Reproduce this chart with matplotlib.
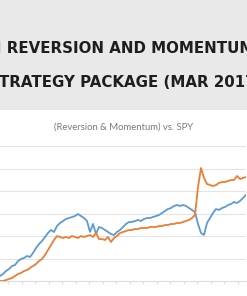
import numpy as np
import matplotlib
matplotlib.use("Agg")
import matplotlib.pyplot as plt
from matplotlib.patches import Rectangle

# cumulative growth (grid every 50 units)
blue = [11.1, 15.6, 22.2, 26.7, 33.3, 35.6, 44.4, 48.9, 51.1, 55.6, 53.3, 62.2,
        73.3, 82.2, 88.9, 97.8, 106.7, 113.3, 108.9, 122.2, 128.9, 133.3, 137.8,
        140.0, 142.2, 144.4, 148.9, 144.4, 140.0, 133.3, 108.9, 126.7, 104.4,
        120.0, 117.8, 113.3, 108.9, 104.4, 102.2, 108.9, 113.3, 120.0, 126.7,
        131.1, 131.1, 133.3, 135.6, 133.3, 137.8, 140.0, 140.0, 142.2, 144.4,
        146.7, 151.1, 155.6, 160.0, 162.2, 166.7, 168.9, 166.7, 168.9, 166.7,
        162.2, 157.8, 153.3, 126.7, 106.7, 102.2, 128.9, 140.0, 151.1, 160.0,
        157.8, 162.2, 164.4, 168.9, 171.1, 175.6, 173.3, 177.8, 184.4, 191.1]
orange = [0.0, 0.0, 2.2, 4.4, 6.7, 11.1, 15.6, 17.8, 22.2, 24.4, 28.9, 33.3,
          37.8, 44.4, 48.9, 57.8, 68.9, 80.0, 91.1, 100.0, 97.8, 95.6, 97.8,
          95.6, 100.0, 97.8, 95.6, 100.0, 97.8, 100.0, 102.2, 97.8, 106.7, 93.3,
          93.3, 91.1, 97.8, 86.7, 95.6, 100.0, 106.7, 108.9, 111.1, 113.3, 113.3,
          115.6, 115.6, 117.8, 117.8, 117.8, 120.0, 120.0, 120.0, 122.2, 122.2,
          124.4, 124.4, 126.7, 126.7, 128.9, 128.9, 131.1, 133.3, 135.6, 140.0,
          146.7, 208.9, 251.1, 228.9, 215.6, 213.3, 211.1, 213.3, 217.8, 220.0,
          220.0, 222.2, 224.4, 224.4, 233.3, 226.7, 228.9, 231.1]

heading1 = "MEAN REVERSION AND MOMENTUM"
heading2 = "STRATEGY PACKAGE (MAR 2017)"
chart_title = "(Reversion & Momentum) vs. SPY"

W, H = 247, 296
fig = plt.figure(figsize=(W / 100, H / 100), dpi=100)
fig.patch.set_facecolor("white")

# grey banner at the top
fig.add_artist(Rectangle((0, 1 - 110 / H), 1, 110 / H, transform=fig.transFigure,
                         facecolor="#e9e9e9", edgecolor="none", zorder=0))

renderer = fig.canvas.get_renderer()
head_font = dict(family=["Liberation Sans Narrow", "DejaVu Sans"], weight="bold",
                 color="#1e1e1e")


def width_px(s, size):
    t = fig.text(0, 0, s, fontsize=size, **head_font)
    w = t.get_window_extent(renderer).width
    t.remove()
    return w


# the banner is cropped on both sides: size and shift it so the visible part lines up
hsize = 16 * 231 / width_px("REVERSION AND MOMENTU", 16)
x1 = 7 - (width_px("MEAN R", hsize) - width_px("R", hsize))
x2 = -1 - (width_px("ST", hsize) - width_px("T", hsize))
fig.text(x1 / W, 1 - 53 / H, heading1, fontsize=hsize, va="baseline", **head_font)
fig.text(x2 / W, 1 - 87 / H, heading2, fontsize=hsize, va="baseline", **head_font)

fig.text(124 / W, 1 - 127 / H, chart_title, fontsize=6.8, color="#7a7a7a",
         family=["Lato", "DejaVu Sans"], ha="center", va="center")

x = np.arange(len(blue))
ax = fig.add_axes([0, 15 / H, 246 / W, 135 / H])
ax.plot(x, blue, color="#5b9bd5", lw=1.3, zorder=3)
ax.plot(x, orange, color="#ed7d31", lw=1.3, zorder=3)
ax.set_xlim(0, len(blue) - 1)
ax.set_ylim(0, 300)
ax.set_yticks(np.arange(0, 301, 50))
ax.set_xticks(np.arange(2.8, len(blue), 4.5))
ax.grid(axis="y", color="#e4e4e4", lw=0.8)
ax.tick_params(axis="x", length=2, color="#dddddd", labelbottom=False)
ax.tick_params(axis="y", length=0, labelleft=False)
for s in ["top", "left", "right"]:
    ax.spines[s].set_visible(False)
ax.spines["bottom"].set_color("#dddddd")
ax.spines["bottom"].set_linewidth(0.8)
ax.set_facecolor("none")

fig.savefig("out.png", dpi=100)
